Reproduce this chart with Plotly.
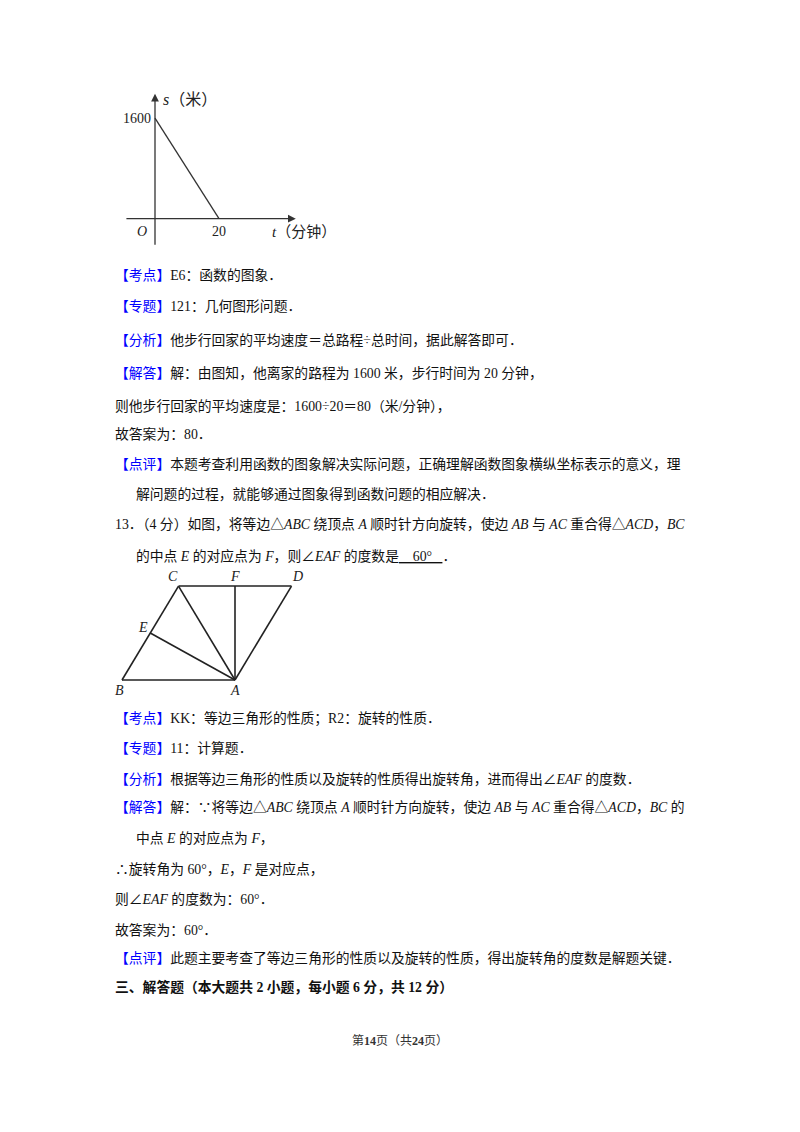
import plotly.graph_objects as go

W, H = 800, 1132
BLUE = "#0000ff"
FONT = "Liberation Serif, Noto Sans CJK SC, serif"

# s-t graph data
t_vals = [0, 20]
s_vals = [1600, 0]

# geometry points (equilateral triangle side 1, A at origin)
pt_names = ["A", "B", "C", "D", "E", "F"]
pt_x = [0, -1, -0.5, 0.5, -0.75, 0]
pt_y = [0, 0, 0.866, 0.866, 0.433, 0.866]
segments = [("B", "A"), ("B", "C"), ("C", "D"), ("D", "A"), ("C", "A"), ("F", "A"), ("E", "A")]
label_off = {"A": (0, -0.1), "B": (-0.02, -0.1), "C": (-0.05, 0.09), "D": (0.05, 0.09),
             "E": (-0.06, 0.05), "F": (0, 0.09)}

def b(s):
    return f"<span style='color:{BLUE}'>{s}</span>"

text_lines = [
    (113, 275, b("【考点】") + "E6：函数的图象．"),
    (113, 306, b("【专题】") + "121：几何图形问题．"),
    (113, 340, b("【分析】") + "他步行回家的平均速度＝总路程÷总时间，据此解答即可．"),
    (113, 373, b("【解答】") + "解：由图知，他离家的路程为 1600 米，步行时间为 20 分钟，"),
    (113, 406, "则他步行回家的平均速度是：1600÷20＝80（米/分钟），"),
    (113, 434, "故答案为：80．"),
    (113, 464, b("【点评】") + "本题考查利用函数的图象解决实际问题，正确理解函数图象横纵坐标表示的意义，理"),
    (134, 494, "解问题的过程，就能够通过图象得到函数问题的相应解决．"),
    (113, 524, "13．（4 分）如图，将等边△<i>ABC</i> 绕顶点 <i>A</i> 顺时针方向旋转，使边 <i>AB</i> 与 <i>AC</i> 重合得△<i>ACD</i>，<i>BC</i>"),
    (134, 556, "的中点 <i>E</i> 的对应点为 <i>F</i>，则∠<i>EAF</i> 的度数是<u>\u00a0\u00a0\u00a0 60°\u00a0\u00a0\u00a0</u>．"),
    (113, 718, b("【考点】") + "KK：等边三角形的性质；R2：旋转的性质．"),
    (113, 748, b("【专题】") + "11：计算题．"),
    (113, 779, b("【分析】") + "根据等边三角形的性质以及旋转的性质得出旋转角，进而得出∠<i>EAF</i> 的度数．"),
    (113, 807, b("【解答】") + "解：∵将等边△<i>ABC</i> 绕顶点 <i>A</i> 顺时针方向旋转，使边 <i>AB</i> 与 <i>AC</i> 重合得△<i>ACD</i>，<i>BC</i> 的"),
    (134, 838, "中点 <i>E</i> 的对应点为 <i>F</i>，"),
    (113, 869, "∴旋转角为 60°，<i>E</i>，<i>F</i> 是对应点，"),
    (113, 899, "则∠<i>EAF</i> 的度数为：60°．"),
    (113, 930, "故答案为：60°．"),
    (113, 958, b("【点评】") + "此题主要考查了等边三角形的性质以及旋转的性质，得出旋转角的度数是解题关键．"),
    (113, 987, "<b>三、解答题（本大题共 2 小题，每小题 6 分，共 12 分）</b>"),
]

# page body has an 8px margin, compensate
OFF = 8

def px(x):
    return (x - OFF) / W

def py(y):
    return 1 - (y - OFF) / H

fig = go.Figure()

# s-t graph
fig.add_trace(go.Scatter(x=t_vals, y=s_vals, mode="lines", line=dict(color="#333", width=1.3),
                         xaxis="x2", yaxis="y2", showlegend=False, hoverinfo="skip"))

# geometry
for p, q in segments:
    i, j = pt_names.index(p), pt_names.index(q)
    fig.add_trace(go.Scatter(x=[pt_x[i], pt_x[j]], y=[pt_y[i], pt_y[j]], mode="lines",
                             line=dict(color="#222", width=1.6), xaxis="x3", yaxis="y3",
                             showlegend=False, hoverinfo="skip"))

ax_hidden = dict(visible=False, fixedrange=True)
fig.update_layout(
    width=W, height=H, margin=dict(l=0, r=0, t=0, b=0),
    paper_bgcolor="white", plot_bgcolor="rgba(0,0,0,0)",
    xaxis=dict(visible=False, range=[0, 1]), yaxis=dict(visible=False, range=[0, 1]),
    xaxis2=dict(ax_hidden, range=[-10, 45], domain=[px(123), px(299)], anchor="y2"),
    yaxis2=dict(ax_hidden, range=[-450, 2000], domain=[py(247), py(93)], anchor="x2"),
    xaxis3=dict(ax_hidden, range=[-1.1, 0.6], domain=[px(110.7), px(302.8)], anchor="y3"),
    yaxis3=dict(ax_hidden, range=[-0.12, 1.0], domain=[py(693), py(571.5)], anchor="x3"),
)

# axes arrows of s-t graph
fig.add_annotation(x=44, y=0, ax=-9.4, ay=0, xref="x2", yref="y2", axref="x2", ayref="y2",
                   showarrow=True, arrowhead=2, arrowsize=1.2, arrowwidth=1.3, arrowcolor="#333", text="")
fig.add_annotation(x=0, y=1990, ax=0, ay=-440, xref="x2", yref="y2", axref="x2", ayref="y2",
                   showarrow=True, arrowhead=2, arrowsize=1.2, arrowwidth=1.3, arrowcolor="#333", text="")

gfont = dict(family=FONT, size=14, color="#222")
fig.add_annotation(x=0, y=1600, xref="x2", yref="y2", text="1600", showarrow=False, xanchor="right", xshift=-2, font=gfont)
fig.add_annotation(x=20, y=0, xref="x2", yref="y2", text="20", showarrow=False, yanchor="top", yshift=-3, font=gfont)
fig.add_annotation(x=0, y=0, xref="x2", yref="y2", text="<i>O</i>", showarrow=False, xanchor="right", yanchor="top", xshift=-6, yshift=-3, font=gfont)
fig.add_annotation(x=0, y=1900, xref="x2", yref="y2", text="<i>s</i>（米）", showarrow=False, xanchor="left", xshift=6,
                   font=dict(family=FONT, size=16, color="#222"))
fig.add_annotation(x=36, y=0, xref="x2", yref="y2", text="<i>t</i>（分钟）", showarrow=False, xanchor="left", yanchor="top", yshift=-3,
                   font=dict(family=FONT, size=15, color="#222"))

for n, x0, y0 in zip(pt_names, pt_x, pt_y):
    dx, dy = label_off[n]
    fig.add_annotation(x=x0 + dx, y=y0 + dy, xref="x3", yref="y3", text=f"<i>{n}</i>",
                       showarrow=False, font=dict(family=FONT, size=14, color="#222"))

for x0, y0, txt in text_lines:
    fig.add_annotation(x=px(x0), y=py(y0), xref="paper", yref="paper", text=txt, showarrow=False,
                       xanchor="left", yanchor="middle", font=dict(family=FONT, size=13.8, color="#111"))

fig.add_annotation(x=px(400), y=py(1050), xref="paper", yref="paper", showarrow=False,
                   text="第<b>14</b>页（共<b>24</b>页）", font=dict(family=FONT, size=12, color="#333"))

fig.write_html("out.html")
